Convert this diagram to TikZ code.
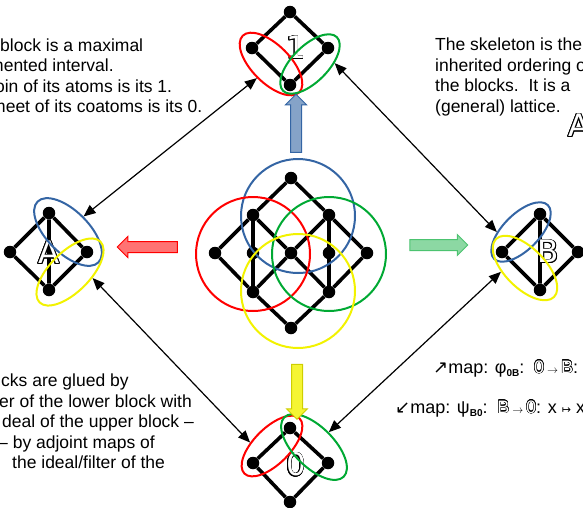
\documentclass[tikz,border=0pt]{standalone}
\usepackage{fontspec}
\setmainfont{Liberation Sans}
\newfontfamily\dejavu{DejaVu Sans}
\usepackage{contour}
\contourlength{0.45pt}
\usetikzlibrary{arrows.meta,shapes.geometric,shapes.arrows}
\definecolor{blkblue}{HTML}{3465A4}
\definecolor{blkred}{HTML}{FF0000}
\definecolor{blkgreen}{HTML}{00A933}
\definecolor{blkyellow}{HTML}{F2F200}
\newcommand{\hollow}[1]{{\color{white}\contour{black}{#1}}}
\newcommand{\subidx}[1]{\raisebox{-3pt}{\fontsize{10}{10}\selectfont\bfseries #1}}
\newcommand{\smallto}{\,{\fontsize{11}{11}\selectfont$\rightarrow$}\,}
\tikzset{
  vtx/.style={circle, fill=black, inner sep=0pt, minimum size=12.5pt},
  edge/.style={line width=3.6pt, black},
  ring/.style={circle, draw, line width=2pt, inner sep=0pt, minimum size=114pt},
  blk/.style={ellipse, draw, line width=2pt, inner sep=0pt},
  link/.style={{Triangle[length=12pt,width=10pt]}-{Triangle[length=12pt,width=10pt]}, line width=1.2pt},
  fat/.style={single arrow, draw, line width=1pt, inner sep=5pt, minimum width=0pt, single arrow head extend=5pt, single arrow tip angle=90},
  biglab/.style={font=\dejavu\fontsize{31}{31}\selectfont\contourlength{0.7pt}, inner sep=0pt},
  note/.style={font=\fontsize{17.5}{20.5}\selectfont, align=left, inner sep=0pt, anchor=north west},
  mapline/.style={font=\fontsize{18}{20.5}\selectfont, inner sep=0pt, anchor=base west},
}
\begin{document}
\begin{tikzpicture}[x=1pt, y=-1pt]
  \useasboundingbox (0,0) rectangle (583,507);
  \clip (0,0) rectangle (583,507);

  % whole lattice
  \node[vtx] (t) at (291,178) {};
  \node[vtx] (a) at (253,215) {};
  \node[vtx] (b) at (329,215) {};
  \node[vtx] (l) at (215,253) {};
  \node[vtx] (m1) at (253,253) {};
  \node[vtx] (c) at (291,253) {};
  \node[vtx] (m2) at (329,253) {};
  \node[vtx] (r) at (367,253) {};
  \node[vtx] (d) at (253,292) {};
  \node[vtx] (e) at (329,292) {};
  \node[vtx] (z) at (291,328) {};
  \draw[edge] (l) -- (a) -- (t) -- (b) -- (r) -- (e) -- (z) -- (d) -- (l);
  \draw[edge] (a) -- (c) -- (e);
  \draw[edge] (b) -- (c) -- (d);
  \draw[edge] (a) -- (m1) -- (d);
  \draw[edge] (b) -- (m2) -- (e);
  \node[ring, draw=blkblue] (cb) at (298,216) {};
  \node[ring, draw=blkred] (cr) at (253,254) {};
  \node[ring, draw=blkgreen] (cg) at (329,254) {};
  \node[ring, draw=blkyellow] (cy) at (298,291) {};

  % block 1
  \node[vtx] (p1t) at (290,12) {};
  \node[vtx] (p1l) at (252,48) {};
  \node[vtx] (p1r) at (328,48) {};
  \node[vtx] (p1b) at (290,85) {};
  \draw[edge] (p1t) -- (p1l) -- (p1b) -- (p1r) -- (p1t);
  \node[biglab] (lab1) at (296,48) {\hollow{1}};
  \node[blk, draw=blkred, minimum width=80pt, minimum height=38pt, rotate=-45] (e1l) at (271,64) {};
  \node[blk, draw=blkgreen, minimum width=76pt, minimum height=36pt, rotate=45] (e1r) at (310,64) {};

  % block A
  \node[vtx] (pAt) at (49,213) {};
  \node[vtx] (pAl) at (10,252) {};
  \node[vtx] (pAr) at (87,252) {};
  \node[vtx] (pAb) at (49,290) {};
  \draw[edge] (pAt) -- (pAl) -- (pAb) -- (pAr) -- (pAt) -- (pAb);
  \node[biglab] (labA) at (49,253) {\hollow{A}};
  \node[blk, draw=blkblue, minimum width=86pt, minimum height=42pt, rotate=-45] (eAt) at (68,232) {};
  \node[blk, draw=blkyellow, minimum width=86pt, minimum height=40pt, rotate=45] (eAb) at (70,272) {};

  % block B
  \node[vtx] (pBt) at (540,214) {};
  \node[vtx] (pBl) at (502,252) {};
  \node[vtx] (pBr) at (578,252) {};
  \node[vtx] (pBb) at (540,290) {};
  \draw[edge] (pBt) -- (pBl) -- (pBb) -- (pBr) -- (pBt) -- (pBb);
  \node[biglab] (labB) at (548,252) {\hollow{B}};
  \node[blk, draw=blkblue, minimum width=76pt, minimum height=36pt, rotate=45] (eBt) at (521,232) {};
  \node[blk, draw=blkyellow, minimum width=82pt, minimum height=40pt, rotate=-45] (eBb) at (525,268) {};

  % block 0
  \node[vtx] (p0t) at (290,428) {};
  \node[vtx] (p0l) at (253,463) {};
  \node[vtx] (p0r) at (328,463) {};
  \node[vtx] (p0b) at (290,502) {};
  \draw[edge] (p0t) -- (p0l) -- (p0b) -- (p0r) -- (p0t);
  \node[biglab] (lab0) at (296,465) {\hollow{0}};
  \node[blk, draw=blkred, minimum width=78pt, minimum height=36pt, rotate=45] (e0l) at (272,446) {};
  \node[blk, draw=blkgreen, minimum width=84pt, minimum height=40pt, rotate=-45] (e0r) at (314,447) {};

  \node[biglab] (labAcut) at (579,126) {\hollow{A}};

  \draw[link] (eAt.north) -- (e1l.south);
  \draw[link] (e1r.-43) -- (eBt.135);
  \draw[link] (eAb.-60) -- (e0l.126);
  \draw[link] (eBb.-126) -- (e0r.north);

  \node[fat, fill=blkblue!60, draw=blkblue, minimum height=58pt, rotate=90] (upar) at (296,126) {};
  \node[fat, fill=blkred!55, draw=blkred, minimum height=60pt, rotate=180] (leftar) at (150,247) {};
  \node[fat, fill=blkgreen!45, draw=blkgreen!70, minimum height=58pt] (rightar) at (436,245) {};
  \node[fat, fill=blkyellow!80, draw=blkyellow!85!black, minimum height=55pt, rotate=-90] (downar) at (297,389) {};

  \node[note] (blocknote) at (0,38.5) {block is a maximal\\
    \kern-11pt mented interval.\\
    \kern-9pt join of its atoms is its 1.\\
    \kern-9pt meet of its coatoms is its 0.};
  \node[note] (skelnote) at (435,38) {The skeleton is the\\
    inherited ordering of\\
    the blocks.\ \ It is a\\
    (general) lattice.};
  \node[note] (gluenote) at (1,374) {cks are glued by\\
    \kern-2pt er of the lower block with\\
    \kern1pt deal of the upper block --\\
    \kern-3pt -- by adjoint maps of\\
    \kern11pt the ideal/filter of the};
  \node[mapline] (upmap) at (433,373) {{\dejavu ↗}map: φ\subidx{0B}: \kern3pt\hollow{0}\smallto\hollow{B}: x};
  \node[mapline] (downmap) at (395,413) {{\dejavu ↙}map: ψ\subidx{B0}: \kern3pt\hollow{B}\smallto\hollow{0}: x {\dejavu\fontsize{11}{11}\selectfont ↦} x};
\end{tikzpicture}
\end{document}
